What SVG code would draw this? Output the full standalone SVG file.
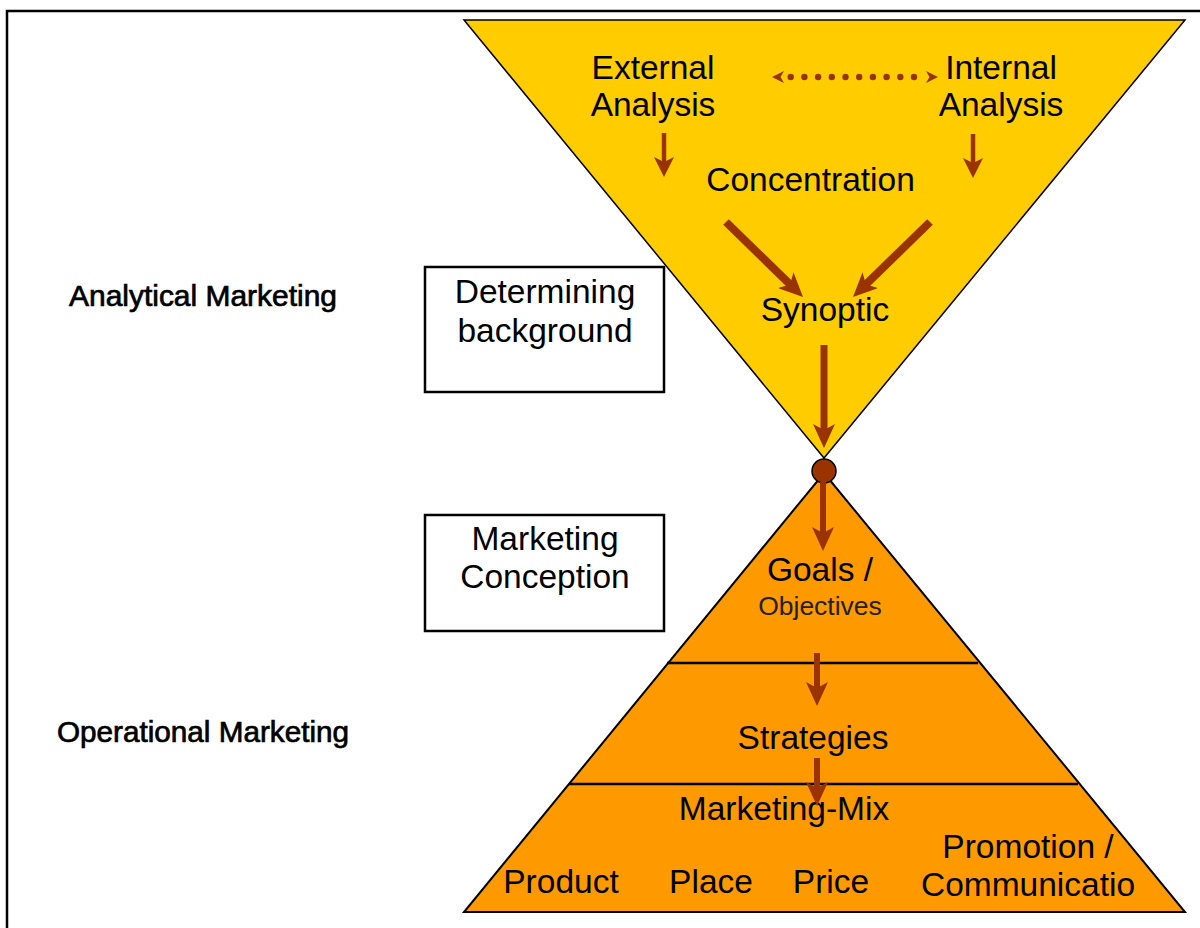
<svg xmlns="http://www.w3.org/2000/svg" width="1200" height="928" viewBox="0 0 1200 928">
<style>
  .t { font-family: "Liberation Sans", Arial, sans-serif; font-size: 33.5px; fill: #000; text-anchor: middle; }
  .lbl { font-family: "Liberation Sans", Arial, sans-serif; font-size: 28.8px; fill: #000; stroke: #000; stroke-width: 0.7; }
  .box { fill: #fff; stroke: #000; stroke-width: 2.5; }
  .arr { stroke: #993300; fill: none; stroke-linecap: butt; }
  .div { stroke: #000; stroke-width: 2.5; }
  .dot { fill: #993300; }
</style>
<defs>
  <marker id="ah" markerUnits="userSpaceOnUse" viewBox="0 0 24 22" markerWidth="24" markerHeight="22" refX="12" refY="11" orient="auto">
    <path d="M0,0 L24,11 L0,22 L6,11 z" fill="#993300"/>
  </marker>
  <marker id="ahs" markerUnits="userSpaceOnUse" viewBox="0 0 20 20" markerWidth="20" markerHeight="20" refX="10" refY="10" orient="auto">
    <path d="M0,0 L20,10 L0,20 L5,10 z" fill="#993300"/>
  </marker>
</defs>
<rect width="1200" height="928" fill="#fff"/>
<g id="frame" stroke="#000" stroke-width="2.5" fill="none">
  <path d="M7,928 L7,11 L1200,11"/>
</g>
<g id="labels">
  <text class="lbl" x="69" y="306" textLength="268" lengthAdjust="spacingAndGlyphs">Analytical Marketing</text>
  <text class="lbl" x="57" y="742" textLength="292" lengthAdjust="spacingAndGlyphs">Operational Marketing</text>
</g>
<g id="box-background">
  <rect class="box" x="425" y="267" width="239" height="125"/>
  <text class="t" x="545" y="303">Determining</text>
  <text class="t" x="545" y="342">background</text>
</g>
<g id="box-conception">
  <rect class="box" x="425" y="515" width="239" height="116"/>
  <text class="t" x="545" y="550">Marketing</text>
  <text class="t" x="545" y="588">Conception</text>
</g>
<g id="pyramid">
  <polygon points="824,473 1185,912 464,912" fill="#FF9900" stroke="#000" stroke-width="2"/>
  <line class="div" x1="667" y1="663" x2="978" y2="663"/>
  <line class="div" x1="569" y1="784" x2="1078" y2="784"/>
</g>
<g id="funnel">
  <polygon points="464,20 1185,20 824,458" fill="#FFCC00" stroke="#000" stroke-width="1.5"/>
</g>
<g id="junction">
  <circle cx="824" cy="471" r="12" fill="#993300" stroke="#000" stroke-width="1.5"/>
</g>
<g id="node-external">
  <text class="t" x="653" y="79">External</text>
  <text class="t" x="653" y="116">Analysis</text>
</g>
<g id="node-internal">
  <text class="t" x="1001" y="79">Internal</text>
  <text class="t" x="1001" y="116">Analysis</text>
</g>
<g id="node-concentration">
  <text class="t" x="810.5" y="191">Concentration</text>
</g>
<g id="node-synoptic">
  <text class="t" x="825" y="321">Synoptic</text>
</g>
<g id="node-goals">
  <text class="t" x="820" y="581">Goals /</text>
  <text class="t" x="820" y="615" style="font-size:26.5px;fill:#222">Objectives</text>
</g>
<g id="node-strategies">
  <text class="t" x="813" y="749">Strategies</text>
</g>
<g id="node-mix">
  <text class="t" x="784" y="820">Marketing-Mix</text>
  <text class="t" x="561" y="893">Product</text>
  <text class="t" x="711" y="893">Place</text>
  <text class="t" x="831" y="893">Price</text>
  <text class="t" x="1028" y="858">Promotion /</text>
  <text class="t" x="1028" y="896">Communicatio</text>
</g>
<g id="connectors">
  <g id="dotted-link">
    <circle class="dot" cx="790.7" cy="77" r="3.2"/>
    <circle class="dot" cx="804.4" cy="77" r="3.2"/>
    <circle class="dot" cx="818.1" cy="77" r="3.2"/>
    <circle class="dot" cx="831.8" cy="77" r="3.2"/>
    <circle class="dot" cx="845.5" cy="77" r="3.2"/>
    <circle class="dot" cx="859.2" cy="77" r="3.2"/>
    <circle class="dot" cx="872.9" cy="77" r="3.2"/>
    <circle class="dot" cx="886.6" cy="77" r="3.2"/>
    <circle class="dot" cx="900.3" cy="77" r="3.2"/>
    <circle class="dot" cx="914" cy="77" r="3.2"/>
    <path d="M772,77 L784,71 L780.5,77 L784,83 z" fill="#993300"/>
    <path d="M938,77 L926,71 L929.5,77 L926,83 z" fill="#993300"/>
  </g>
  <line class="arr" x1="664" y1="133" x2="664" y2="167" stroke-width="4.5" marker-end="url(#ahs)"/>
  <line class="arr" x1="973" y1="134" x2="973" y2="168" stroke-width="4.5" marker-end="url(#ahs)"/>
  <line class="arr" x1="726" y1="222" x2="794.4" y2="288.6" stroke-width="8" marker-end="url(#ah)"/>
  <line class="arr" x1="930" y1="222" x2="861.6" y2="288.6" stroke-width="8" marker-end="url(#ah)"/>
  <line class="arr" x1="824" y1="345" x2="824" y2="436" stroke-width="7" marker-end="url(#ah)"/>
  <line class="arr" x1="823" y1="482" x2="823" y2="539" stroke-width="6" marker-end="url(#ah)"/>
  <line class="arr" x1="817" y1="653" x2="817" y2="694" stroke-width="6" marker-end="url(#ah)"/>
  <line class="arr" x1="817" y1="758" x2="817" y2="794" stroke-width="6" marker-end="url(#ah)"/>
</g>
</svg>
